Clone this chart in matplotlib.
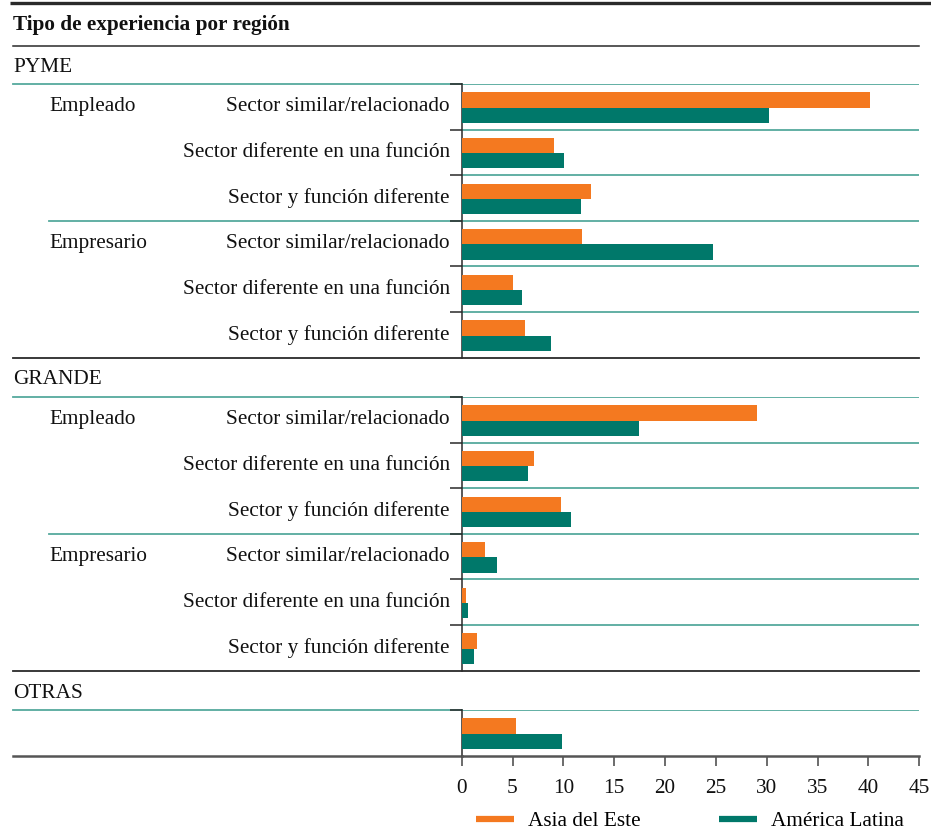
import matplotlib
matplotlib.use("Agg")
import matplotlib.pyplot as plt
from matplotlib.lines import Line2D

# data
sectores = ["Sector similar/relacionado", "Sector diferente en una función", "Sector y función diferente"]
subgrupos = ["Empleado", "Empresario"]
bloques = ["PYME", "GRANDE", "OTRAS"]

pyme_asia = [40.2, 9.1, 12.7, 11.8, 5.0, 6.2]
pyme_latam = [30.2, 10.1, 11.7, 24.7, 5.9, 8.8]
grande_asia = [29.0, 7.1, 9.8, 2.3, 0.4, 1.5]
grande_latam = [17.4, 6.5, 10.7, 3.5, 0.6, 1.2]
otras_asia = [5.3]
otras_latam = [9.9]

xticks = [0, 5, 10, 15, 20, 25, 30, 35, 40, 45]

ORANGE = "#F47920"
TEAL = "#00786A"
TEAL_LINE = "#55A99D"
DARK = "#2a2a2a"
FONT = "Liberation Serif"
FS = 15.3

W, H = 931, 831
fig = plt.figure(figsize=(W / 100, H / 100), dpi=100)
plt.rcParams["font.family"] = FONT

# background axes in pixel units for the table lines and labels
bg = fig.add_axes([0, 0, 1, 1])
bg.set_xlim(0, W)
bg.set_ylim(H, 0)
bg.axis("off")

X0, X1 = 461.7, 919.3  # value axis from 0 to 45
ROW = 45.6


def fx(px):
    return px / W


def fy(py):
    return 1 - py / H


bg.plot([10, W], [3, 3], color=DARK, lw=2.4, solid_capstyle="butt")
bg.text(13, 25, "Tipo de experiencia por región", fontsize=FS, fontweight="bold",
        va="center", ha="left", color="#111")
bg.plot([13, X1], [46, 46], color=DARK, lw=1.1)

blocks = [
    ("PYME", pyme_asia, pyme_latam, 84),
    ("GRANDE", grande_asia, grande_latam, 397),
    ("OTRAS", otras_asia, otras_latam, 710),
]

for k, (name, asia, latam, top) in enumerate(blocks):
    n = len(asia)
    bottom = top + n * ROW
    bg.text(13, top - 17, name, fontsize=FS, va="center", ha="left", color="#111")
    bg.plot([13, X0], [top, top], color=TEAL_LINE, lw=1.3)
    if n == 6:
        bg.plot([49, X0], [top + 3 * ROW, top + 3 * ROW], color=TEAL_LINE, lw=1.3)
        for i in range(n):
            yc = top + (i + 0.5) * ROW
            bg.text(450, yc, sectores[i % 3], fontsize=FS, va="center", ha="right", color="#111")
            if i % 3 == 0:
                bg.text(49, yc, subgrupos[i // 3], fontsize=FS, va="center", ha="left", color="#111")
        bg.plot([13, X1], [bottom, bottom], color=DARK, lw=1.3)
    else:
        bg.plot([13, X0], [bottom, bottom], color="#555", lw=1.8)

    ax = fig.add_axes([fx(X0), fy(bottom), fx(X1 - X0), (bottom - top) / H])
    ax.set_facecolor("none")
    rows = list(range(n))
    ax.barh([r + 0.35 for r in rows], asia, height=0.335, color=ORANGE, zorder=3)
    ax.barh([r + 0.685 for r in rows], latam, height=0.335, color=TEAL, zorder=3)
    ax.set_xlim(0, 45)
    ax.set_ylim(n, 0)
    ax.set_yticks(rows)
    ax.set_yticklabels([])
    ax.tick_params(axis="y", length=8.6, width=1.1, color=DARK)
    ax.yaxis.grid(True, color=TEAL_LINE, lw=1.3)
    ax.set_axisbelow(True)
    for s in ["top", "right"]:
        ax.spines[s].set_visible(False)
    ax.spines["left"].set_color(DARK)
    ax.spines["left"].set_linewidth(1.1)
    if name == "OTRAS":
        ax.spines["bottom"].set_color("#555")
        ax.spines["bottom"].set_linewidth(1.8)
        ax.set_xticks(xticks)
        ax.set_xticklabels([str(t) for t in xticks], fontsize=FS, color="#111")
        ax.tick_params(axis="x", length=7, width=1.1, color="#444", pad=10)
    else:
        ax.spines["bottom"].set_visible(False)
        ax.set_xticks([])

handles = [Line2D([0], [0], color=ORANGE, lw=4.5, solid_capstyle="butt"),
           Line2D([0], [0], color=TEAL, lw=4.5, solid_capstyle="butt")]
fig.legend(handles, ["Asia del Este", "América Latina"], loc="center",
           bbox_to_anchor=(fx(690), fy(821)), ncol=2, frameon=False, fontsize=FS,
           handlelength=1.8, handletextpad=0.65, columnspacing=3.7,
           borderpad=0.2)

fig.savefig("out.png", dpi=100)
